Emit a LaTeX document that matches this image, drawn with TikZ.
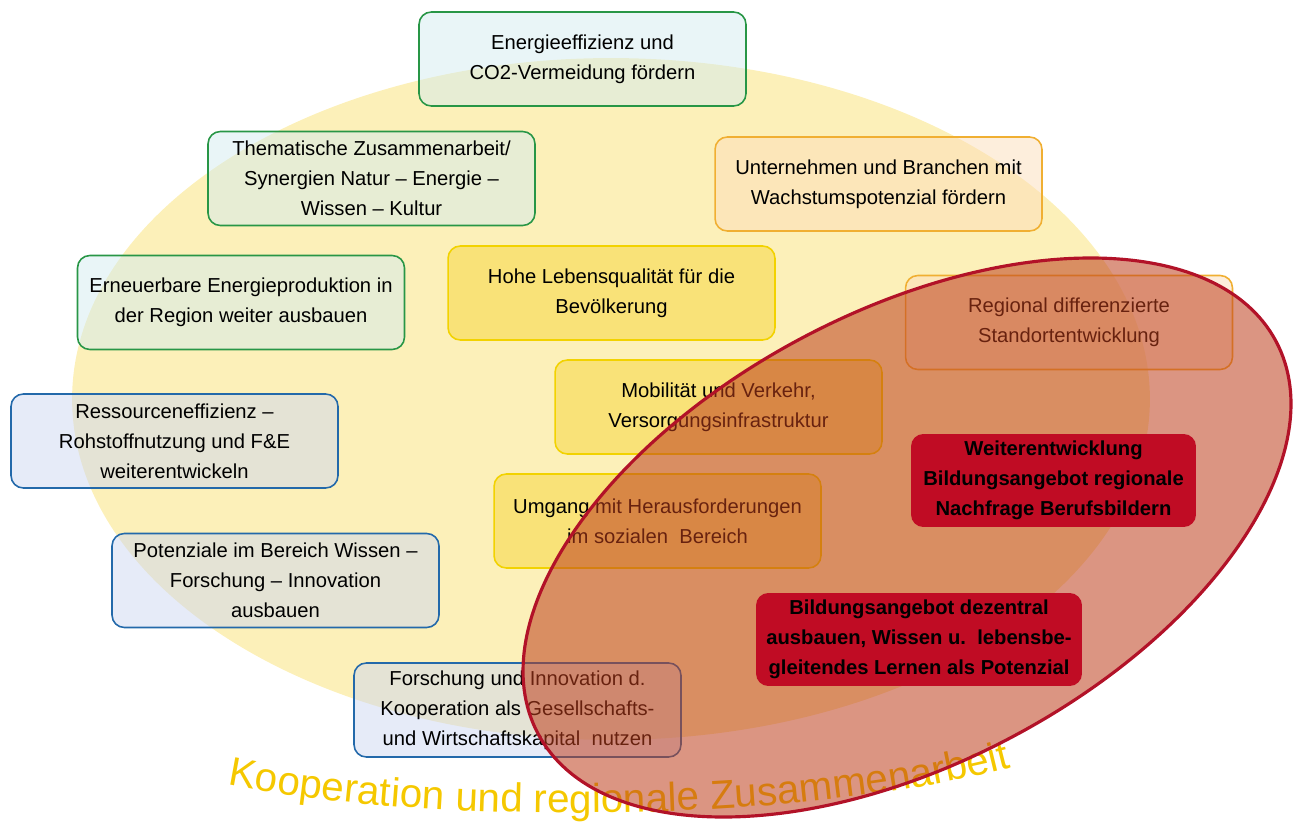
\documentclass[tikz,border=0pt]{standalone}
\usepackage{fontspec}
\setmainfont{Liberation Sans}
\usepackage{tikz}
\usetikzlibrary{decorations.text}
\usepackage{xcolor}
\definecolor{ellYellow}{RGB}{252, 240, 185}
\definecolor{coopYellow}{RGB}{245, 200, 0}
\definecolor{lineGreen}{RGB}{40, 150, 70}
\definecolor{fillGreen}{RGB}{212, 236, 240}
\definecolor{lineBlue}{RGB}{35, 105, 170}
\definecolor{fillBlue}{RGB}{205, 215, 242}
\definecolor{lineOrange}{RGB}{240, 175, 50}
\definecolor{fillOrange}{RGB}{252, 222, 185}
\definecolor{lineYellow}{RGB}{242, 210, 0}
\definecolor{fillYellow}{RGB}{249, 226, 120}
\definecolor{redFill}{RGB}{190, 62, 28}
\definecolor{redLine}{RGB}{178, 18, 40}
\definecolor{boxRed}{RGB}{192, 12, 36}

\begin{document}
\begin{tikzpicture}[x=0.02cm, y=-0.02cm,
  box/.style={draw, rounded corners=7pt, line width=0.9pt,
    minimum width=6.54cm, minimum height=1.88cm, align=center,
    font=\fontsize{11.5}{17}\selectfont, text opacity=1},
  greenbox/.style={box, draw=lineGreen, fill=fillGreen, fill opacity=0.5},
  bluebox/.style={box, draw=lineBlue, fill=fillBlue, fill opacity=0.5},
  orangebox/.style={box, draw=lineOrange, fill=fillOrange, fill opacity=0.5},
  yellowbox/.style={box, draw=lineYellow, fill=fillYellow},
  redbox/.style={box, draw=none, fill=boxRed,
    font=\fontsize{11.5}{17}\selectfont\bfseries}]
  \useasboundingbox (0,0) rectangle (1300,827);

  % big pale ellipse
  \fill[ellYellow] (611,399) ellipse [x radius=10.78cm, y radius=6.82cm];

  % goals
  \node[greenbox] (enEff) at (582.5,59) {Energieeffizienz und\\CO2-Vermeidung fördern};
  \node[greenbox] (thema) at (371.5,178.5) {Thematische Zusammenarbeit/\\Synergien Natur -- Energie --\\Wissen -- Kultur};
  \node[orangebox] (untern) at (878.5,184) {Unternehmen und Branchen mit\\Wachstumspotenzial fördern};
  \node[yellowbox] (hohe) at (611.5,293) {Hohe Lebensqualität für die\\Bevölkerung};
  \node[greenbox] (erneu) at (241,302.5) {Erneuerbare Energieproduktion in\\der Region weiter ausbauen};
  \node[orangebox] (region) at (1069,322.5) {Regional differenzierte\\Standortentwicklung};
  \node[yellowbox] (mobil) at (718.5,407) {Mobilität und Verkehr,\\Versorgungsinfrastruktur};
  \node[bluebox] (ressou) at (174.5,441) {Ressourceneffizienz --\\Rohstoffnutzung und F\&E\\weiterentwickeln};
  \node[yellowbox] (umgang) at (657.5,521) {Umgang mit Herausforderungen\\im sozialen~~Bereich};
  \node[bluebox] (potenz) at (275.5,580.5) {Potenziale im Bereich Wissen --\\Forschung -- Innovation\\ausbauen};
  \node[bluebox] (forsch) at (517.5,710) {Forschung und Innovation d.\\Kooperation als Gesellschafts-\\und Wirtschaftskapital~~nutzen};

  % curved title
  \path[decorate, decoration={text along path, text align=center,
      text color=coopYellow,
      text={|\fontsize{23}{25}\selectfont|Kooperation und regionale Zusammenarbeit}}]
    (214,782) .. controls (420,826) and (800,826) .. (1024,764);

  % focus area
  \draw[redLine, line width=1.8pt, fill=redFill, fill opacity=0.55,
        rotate around={28:(907,537.5)}]
    (907,537.5) ellipse [x radius=8.36cm, y radius=4.51cm];

  \node[redbox, minimum width=5.7cm, minimum height=1.86cm] (weiter) at (1053.5,480.5)
    {Weiterentwicklung\\Bildungsangebot regionale\\Nachfrage Berufsbildern};
  \node[redbox, minimum width=6.52cm, minimum height=1.86cm] (bildung) at (919,639.5)
    {Bildungsangebot dezentral\\ausbauen, Wissen u.~~lebensbe-\\gleitendes Lernen als Potenzial};
\end{tikzpicture}
\end{document}
